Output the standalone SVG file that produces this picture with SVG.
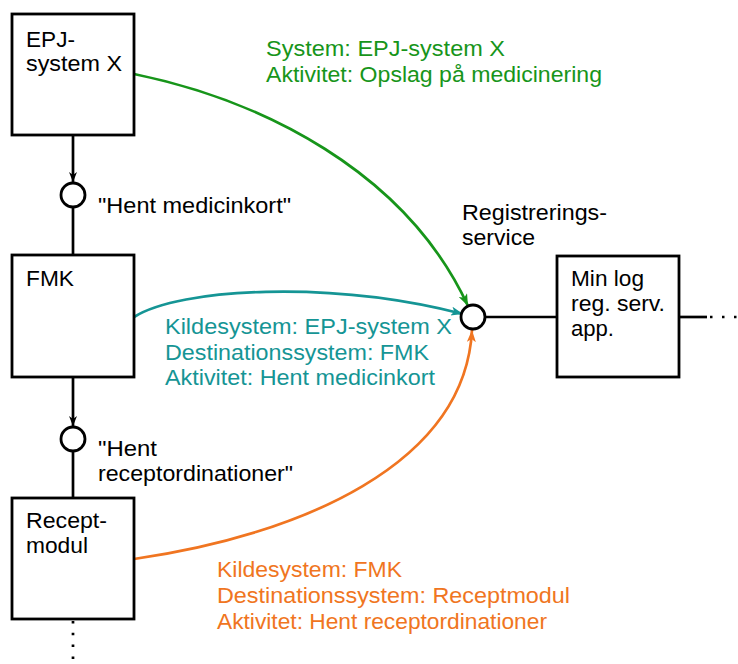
<svg xmlns="http://www.w3.org/2000/svg" width="738" height="664" viewBox="0 0 738 664">
<style>
  .box{fill:#fff;stroke:#000;stroke-width:2.8}
  .ln{fill:none;stroke:#000;stroke-width:2.7}
  .ring{fill:#fff;stroke:#000;stroke-width:2.8}
  text{font-family:"Liberation Sans",Arial,Helvetica,sans-serif;font-size:21.5px}
  .k{fill:#000}
  .g{fill:#17951a}
  .t{fill:#159595}
  .o{fill:#f07521}
  .cg{fill:none;stroke:#17951a;stroke-width:2.7}
  .ct{fill:none;stroke:#159595;stroke-width:2.7}
  .co{fill:none;stroke:#f07521;stroke-width:2.7}
</style>
<defs>
  <marker id="ak" markerUnits="userSpaceOnUse" markerWidth="10" markerHeight="8" refX="10" refY="4" orient="auto"><path d="M0,0 L10,4 L0,8 L3,4 z" fill="#000"/></marker>
  <marker id="ag" markerUnits="userSpaceOnUse" markerWidth="12" markerHeight="9" refX="12" refY="4.5" orient="auto"><path d="M0,0 L12,4.5 L0,9 L3,4.5 z" fill="#17951a"/></marker>
  <marker id="at" markerUnits="userSpaceOnUse" markerWidth="12" markerHeight="9" refX="12" refY="4.5" orient="auto"><path d="M0,0 L12,4.5 L0,9 L3,4.5 z" fill="#159595"/></marker>
  <marker id="ao" markerUnits="userSpaceOnUse" markerWidth="12" markerHeight="9" refX="12" refY="4.5" orient="auto"><path d="M0,0 L12,4.5 L0,9 L3,4.5 z" fill="#f07521"/></marker>
</defs>

<g id="connectors">
  <line class="ln" x1="73" y1="135" x2="73" y2="182" marker-end="url(#ak)"/>
  <line class="ln" x1="73" y1="207" x2="73" y2="255"/>
  <line class="ln" x1="73" y1="377" x2="73" y2="426" marker-end="url(#ak)"/>
  <line class="ln" x1="73" y1="451" x2="73" y2="498"/>
  <line class="ln" x1="73" y1="621" x2="73" y2="664" stroke-dasharray="2.5 9.3"/>
  <line class="ln" x1="485" y1="317" x2="557" y2="317"/>
  <line class="ln" x1="679" y1="317" x2="707" y2="317"/>
  <line class="ln" x1="710" y1="317" x2="738" y2="317" stroke-dasharray="2.5 9.5"/>
  <path class="cg" d="M134,74 C260,100 405,170 468,306" marker-end="url(#ag)"/>
  <path class="ct" d="M134,317 C180,288 330,280 463,314" marker-end="url(#at)"/>
  <path class="co" d="M134,559 C300,535 465,465 472,330" marker-end="url(#ao)"/>
</g>

<g id="epj">
  <rect class="box" x="12" y="14" width="122" height="121"/>
  <text class="k" x="26" y="47" textLength="49" lengthAdjust="spacingAndGlyphs">EPJ-</text>
  <text class="k" x="26" y="71" textLength="96" lengthAdjust="spacingAndGlyphs">system X</text>
</g>
<g id="fmk">
  <rect class="box" x="12" y="255" width="122" height="122"/>
  <text class="k" x="26" y="286" textLength="48" lengthAdjust="spacingAndGlyphs">FMK</text>
</g>
<g id="receptmodul">
  <rect class="box" x="12" y="498" width="122" height="121"/>
  <text class="k" x="26" y="528" textLength="81" lengthAdjust="spacingAndGlyphs">Recept-</text>
  <text class="k" x="26" y="553" textLength="62" lengthAdjust="spacingAndGlyphs">modul</text>
</g>
<g id="minlog">
  <rect class="box" x="557" y="256" width="122" height="121"/>
  <text class="k" x="571" y="286" textLength="73" lengthAdjust="spacingAndGlyphs">Min log</text>
  <text class="k" x="571" y="311" textLength="94" lengthAdjust="spacingAndGlyphs">reg. serv.</text>
  <text class="k" x="571" y="336" textLength="43" lengthAdjust="spacingAndGlyphs">app.</text>
</g>
<g id="if-medicinkort">
  <circle class="ring" cx="73" cy="195" r="12"/>
  <text class="k" x="98" y="213" textLength="193" lengthAdjust="spacingAndGlyphs">"Hent medicinkort"</text>
</g>
<g id="if-receptordinationer">
  <circle class="ring" cx="73" cy="439" r="12"/>
  <text class="k" x="98" y="456" textLength="59" lengthAdjust="spacingAndGlyphs">"Hent</text>
  <text class="k" x="98" y="481" textLength="195" lengthAdjust="spacingAndGlyphs">receptordinationer"</text>
</g>
<g id="registreringsservice">
  <circle class="ring" cx="473" cy="317" r="12"/>
  <text class="k" x="462" y="220" textLength="145" lengthAdjust="spacingAndGlyphs">Registrerings-</text>
  <text class="k" x="462" y="245" textLength="73" lengthAdjust="spacingAndGlyphs">service</text>
</g>

<g id="label-green">
  <text class="g" x="266" y="56" textLength="239" lengthAdjust="spacingAndGlyphs">System: EPJ-system X</text>
  <text class="g" x="266" y="82" textLength="336" lengthAdjust="spacingAndGlyphs">Aktivitet: Opslag på medicinering</text>
</g>
<g id="label-teal">
  <text class="t" x="165" y="334" textLength="287" lengthAdjust="spacingAndGlyphs">Kildesystem: EPJ-system X</text>
  <text class="t" x="165" y="360" textLength="264" lengthAdjust="spacingAndGlyphs">Destinationssystem: FMK</text>
  <text class="t" x="165" y="385" textLength="270" lengthAdjust="spacingAndGlyphs">Aktivitet: Hent medicinkort</text>
</g>
<g id="label-orange">
  <text class="o" x="217" y="577" textLength="185" lengthAdjust="spacingAndGlyphs">Kildesystem: FMK</text>
  <text class="o" x="217" y="603" textLength="353" lengthAdjust="spacingAndGlyphs">Destinationssystem: Receptmodul</text>
  <text class="o" x="217" y="629" textLength="330" lengthAdjust="spacingAndGlyphs">Aktivitet: Hent receptordinationer</text>
</g>
</svg>
